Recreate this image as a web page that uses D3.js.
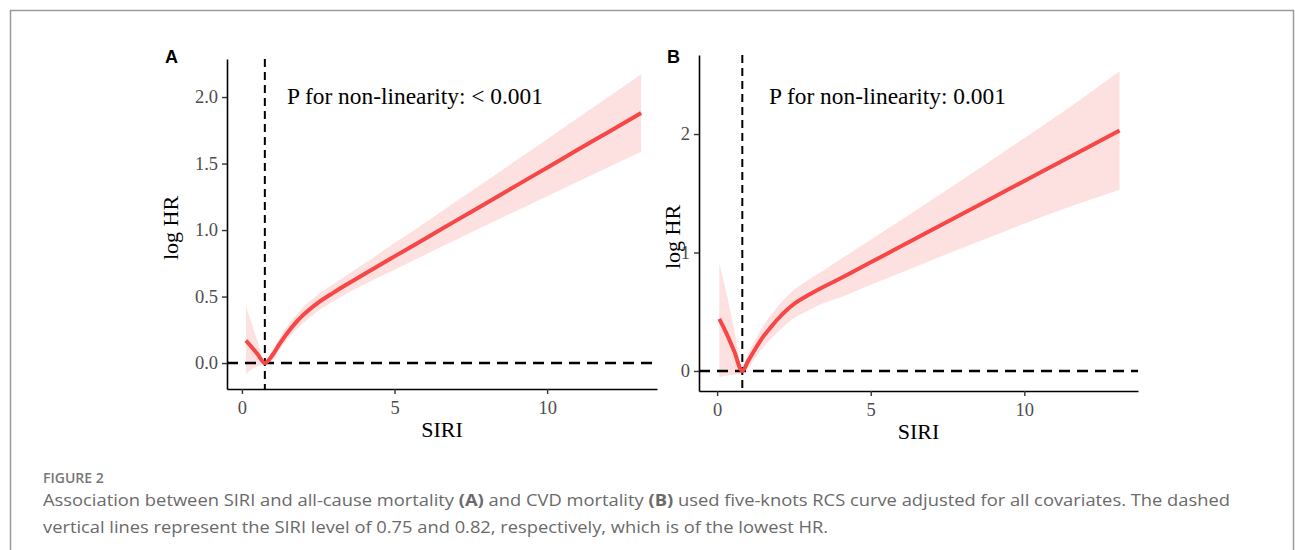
<!DOCTYPE html>
<html>
<head>
<meta charset="utf-8">
<script src="https://cdn.jsdelivr.net/npm/d3@7"></script>
<style>
  body { margin: 0; background: #fff; }
  svg { display: block; }
</style>
</head>
<body>
<div id="viz"></div>
<script>
// panel A: all-cause mortality
const siriA  = [0.13, 0.3, 0.5, 0.75, 1.0, 1.25, 1.5, 1.75, 2.0, 2.5, 3.0, 3.5, 4.0, 5.0, 6.0, 7.0, 8.0, 9.0, 10.0, 11.0, 12.0, 13.08];
const logHrA = [0.17, 0.125, 0.07, 0.0, 0.06, 0.15, 0.23, 0.30, 0.36, 0.455, 0.53, 0.60, 0.668, 0.802, 0.935, 1.069, 1.202, 1.336, 1.469, 1.603, 1.736, 1.880];
const lowerA = [-0.08, -0.05, -0.025, -0.01, 0.02, 0.105, 0.18, 0.245, 0.30, 0.392, 0.465, 0.53, 0.590, 0.702, 0.815, 0.926, 1.036, 1.146, 1.255, 1.364, 1.472, 1.588];
const upperA = [0.43, 0.31, 0.17, 0.01, 0.10, 0.195, 0.28, 0.355, 0.42, 0.518, 0.595, 0.67, 0.746, 0.902, 1.055, 1.212, 1.368, 1.526, 1.683, 1.842, 2.000, 2.172];
const ticksYA = [0, 0.5, 1.0, 1.5, 2.0];

// panel B: CVD mortality
const siriB  = [0.07, 0.3, 0.55, 0.82, 1.0, 1.25, 1.5, 1.75, 2.0, 2.25, 2.5, 3.0, 3.5, 4.0, 5.0, 6.0, 7.0, 8.0, 9.0, 10.0, 11.0, 12.0, 13.1];
const logHrB = [0.44, 0.32, 0.17, 0.0, 0.08, 0.19, 0.29, 0.37, 0.445, 0.51, 0.565, 0.645, 0.715, 0.78, 0.917, 1.054, 1.192, 1.329, 1.466, 1.604, 1.741, 1.878, 2.030];
const lowerB = [-0.05, -0.04, -0.03, -0.02, 0.02, 0.115, 0.20, 0.27, 0.335, 0.395, 0.445, 0.515, 0.575, 0.62, 0.727, 0.832, 0.937, 1.040, 1.141, 1.242, 1.341, 1.433, 1.530];
const upperB = [0.91, 0.66, 0.36, 0.02, 0.14, 0.265, 0.38, 0.47, 0.555, 0.625, 0.685, 0.775, 0.855, 0.94, 1.107, 1.276, 1.447, 1.618, 1.791, 1.966, 2.141, 2.323, 2.530];
const ticksYB = [0, 1, 2];

const ticksX = [0, 5, 10];
const panelLabels = ["A", "B"];
const pTexts = ["P for non-linearity: < 0.001", "P for non-linearity: 0.001"];
const minSiri = [0.75, 0.82];

const width = 1295, height = 550;
const lineColor = "#f74646";
const bandColor = "#fde1e1";
const serif = "'Liberation Serif', 'Times New Roman', serif";

const svg = d3.select("#viz").append("svg")
  .attr("width", width).attr("height", height)
  .attr("viewBox", [0, 0, width, height]);

// frame around the figure
svg.append("rect")
  .attr("x", 10.5).attr("y", 10.5)
  .attr("width", 1283).attr("height", 600)
  .attr("fill", "none").attr("stroke", "#9a9a9a").attr("stroke-width", 1.5);

const panels = [
  { xs: siriA, est: logHrA, lo: lowerA, hi: upperA, yTicks: ticksYA, yFmt: d3.format(".1f"),
    xDom: [-0.49, 13.6], yDom: [-0.195, 2.286], left: 227, right: 657, top: 59, bottom: 389,
    labX: 165, pX: 287, ytX: 178, ytY: 228 },
  { xs: siriB, est: logHrB, lo: lowerB, hi: upperB, yTicks: ticksYB, yFmt: d3.format("d"),
    xDom: [-0.59, 13.7], yDom: [-0.169, 2.667], left: 699, right: 1138, top: 55, bottom: 391,
    labX: 667, pX: 769, ytX: 680, ytY: 237 }
];

panels.forEach((p, i) => {
  const x = d3.scaleLinear().domain(p.xDom).range([p.left, p.right]);
  const y = d3.scaleLinear().domain(p.yDom).range([p.bottom, p.top]);
  const g = svg.append("g");
  const rows = p.xs.map((v, k) => ({ x: v, est: p.est[k], lo: p.lo[k], hi: p.hi[k] }));

  // confidence band
  g.append("path").datum(rows)
    .attr("fill", bandColor)
    .attr("d", d3.area().curve(d3.curveMonotoneX)
      .x(d => x(d.x)).y0(d => y(d.lo)).y1(d => y(d.hi)));

  // reference lines
  g.append("line")
    .attr("x1", p.left).attr("x2", p.right)
    .attr("y1", y(0)).attr("y2", y(0))
    .attr("stroke", "#000").attr("stroke-width", 2.6).attr("stroke-dasharray", "11,7");
  g.append("line")
    .attr("x1", x(minSiri[i])).attr("x2", x(minSiri[i]))
    .attr("y1", p.top).attr("y2", p.bottom)
    .attr("stroke", "#000").attr("stroke-width", 2).attr("stroke-dasharray", "8,5");

  // fitted curve
  g.append("path").datum(rows)
    .attr("fill", "none").attr("stroke", lineColor).attr("stroke-width", 4)
    .attr("stroke-linejoin", "round")
    .attr("d", d3.line().curve(d3.curveMonotoneX).x(d => x(d.x)).y(d => y(d.est)));

  // axes
  const xAxis = g.append("g").attr("transform", `translate(0,${p.bottom})`)
    .call(d3.axisBottom(x).tickValues(ticksX).tickSize(5).tickPadding(5).tickSizeOuter(0));
  const yAxis = g.append("g").attr("transform", `translate(${p.left},0)`)
    .call(d3.axisLeft(y).tickValues(p.yTicks).tickFormat(p.yFmt).tickSize(5).tickPadding(4).tickSizeOuter(0));
  [xAxis, yAxis].forEach(a => {
    a.select(".domain").attr("stroke", "#000").attr("stroke-width", 1.6);
    a.selectAll(".tick line").attr("stroke", "#333").attr("stroke-width", 1.4);
    a.selectAll(".tick text").attr("fill", "#4d4d4d")
      .style("font-family", serif).style("font-size", "18.5px");
  });
  xAxis.selectAll(".tick text").attr("dy", "0.8em");

  // titles
  g.append("text")
    .attr("x", (p.left + p.right) / 2).attr("y", p.bottom + 48)
    .attr("text-anchor", "middle")
    .style("font-family", serif).style("font-size", "22px")
    .text("SIRI");
  g.append("text")
    .attr("transform", `translate(${p.ytX},${p.ytY}) rotate(-90)`)
    .attr("text-anchor", "middle")
    .style("font-family", serif).style("font-size", "22px")
    .text("log HR");
  g.append("text")
    .attr("x", p.pX).attr("y", 104)
    .style("font-family", serif).style("font-size", "23.4px")
    .text(pTexts[i]);
  g.append("text")
    .attr("x", p.labX).attr("y", 63)
    .style("font-family", "'Liberation Sans', Arial, sans-serif")
    .style("font-size", "18px").style("font-weight", "bold")
    .text(panelLabels[i]);
});

// caption
const cap = svg.append("g")
  .style("font-family", "'Open Sans', 'Noto Sans', sans-serif").attr("fill", "#6a6a6a");
cap.append("text").attr("x", 43).attr("y", 483)
  .style("font-size", "14px").style("font-weight", 600).attr("fill", "#777")
  .text("FIGURE 2");

const line1 = cap.append("text").attr("x", 43).attr("y", 506).style("font-size", "16px")
  .attr("textLength", 1187).attr("lengthAdjust", "spacingAndGlyphs");
line1.append("tspan").text("Association between SIRI and all-cause mortality ");
line1.append("tspan").style("font-weight", 700).text("(A)");
line1.append("tspan").text(" and CVD mortality ");
line1.append("tspan").style("font-weight", 700).text("(B)");
line1.append("tspan").text(" used five-knots RCS curve adjusted for all covariates. The dashed");

cap.append("text").attr("x", 43).attr("y", 533).style("font-size", "16px")
  .attr("textLength", 785).attr("lengthAdjust", "spacingAndGlyphs")
  .text("vertical lines represent the SIRI level of 0.75 and 0.82, respectively, which is of the lowest HR.");
</script>
</body>
</html>
